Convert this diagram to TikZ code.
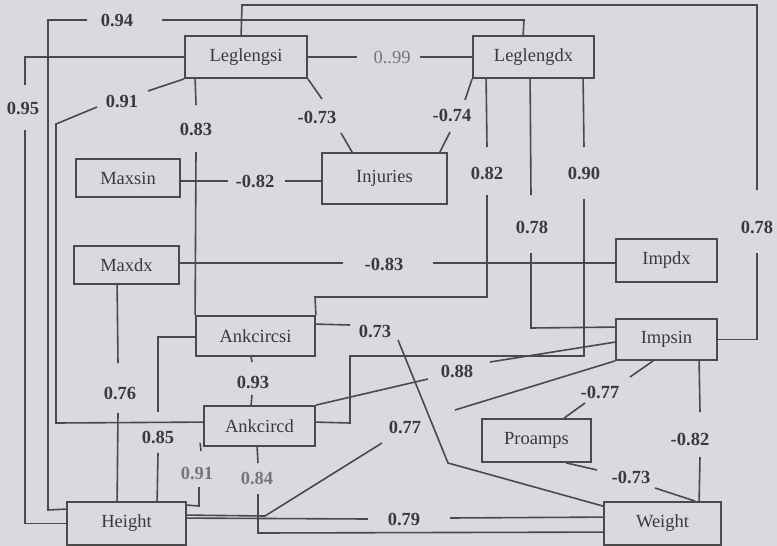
\documentclass[tikz,border=0pt]{standalone}
\usepackage{fontspec}
\setmainfont{Liberation Serif}
\newfontfamily\tnr{Liberation Serif}
\usetikzlibrary{calc}
\definecolor{bgc}{HTML}{DAD9DE}
\definecolor{linec}{HTML}{4A4A4C}
\definecolor{textc}{HTML}{3A3A3C}
\definecolor{greyt}{HTML}{76767A}
\begin{document}
\begin{tikzpicture}[x=1pt,y=-1pt,
 box/.style={draw=linec,line width=1.8pt,fill=bgc,inner sep=0pt,text=textc,font=\tnr\fontsize{18.5}{22}\selectfont},
 lbl/.style={text=textc,inner sep=0pt,font=\tnr\bfseries\fontsize{18.5}{22}\selectfont},
 conn/.style={draw=linec,line width=1.6pt}]
\useasboundingbox (0,0) rectangle (777,546);
\fill[bgc] (0,0) rectangle (777,546);
% boxes
\node[box,minimum width=122pt,minimum height=42pt] (Leglengsi) at (246,57) {Leglengsi};
\node[box,minimum width=121pt,minimum height=42pt] (Leglengdx) at (533.5,57) {Leglengdx};
\node[box,minimum width=104pt,minimum height=38pt] (Maxsin) at (128,178) {Maxsin};
\node[box,minimum width=125pt,minimum height=51pt] (Injuries) at (384.5,178.5) {Injuries};
\node[box,minimum width=105pt,minimum height=38pt] (Maxdx) at (126.5,265) {Maxdx};
\node[box,minimum width=101pt,minimum height=43pt] (Impdx) at (666.5,260.5) {Impdx};
\node[box,minimum width=119pt,minimum height=40pt] (Ankcircsi) at (255.5,336) {Ankcircsi};
\node[box,minimum width=101pt,minimum height=41pt] (Impsin) at (666.5,339.5) {Impsin};
\node[box,minimum width=111pt,minimum height=40pt] (Ankcircd) at (259.5,426) {Ankcircd};
\node[box,minimum width=109pt,minimum height=43pt] (Proamps) at (536.5,440.5) {Proamps};
\node[box,minimum width=119pt,minimum height=43pt] (Height) at (126.5,523.5) {Height};
\node[box,minimum width=117pt,minimum height=43pt] (Weight) at (662.5,523.5) {Weight};
% 0.94
\node[lbl] (l1) at (117,20) {0.94};
\draw[conn] ($(Leglengdx.north west)+(51,0)$) -- (524,20) -- (162,20);
\draw[conn] (87,20) -- (48,20) -- (48,510) -- ($(Height.north west)+(0,8)$);
% 0.95
\node[lbl] (l2) at (23,108) {0.95};
\draw[conn] (Leglengsi.west) -- (25,57) -- (25,85);
\draw[conn] (25,130) -- (25,523.5) -- (Height.west);
% 0.91 top
\node[lbl] (l3) at (122,101) {0.91};
\draw[conn] (Leglengsi.south west) -- (148,91);
\draw[conn] (97,107) -- (56,124) -- (56,423) -- ($(Ankcircd.north west)+(0,17)$);
% 0..99
\node[lbl,font=\tnr\fontsize{18.5}{22}\selectfont,text=greyt] (l4) at (392,57) {0..99};
\draw[conn] (Leglengsi.east) -- (357,57);
\draw[conn] (420,57) -- (Leglengdx.west);
% -0.73
\node[lbl] (l5) at (317,117) {-0.73};
\draw[conn] (Leglengsi.south east) -- (322,99);
\draw[conn] (341,133) -- ($(Injuries.north west)+(31,0)$);
% -0.74
\node[lbl] (l6) at (452,115) {-0.74};
\draw[conn] (Leglengdx.south west) -- (465,100);
\draw[conn] (450,132) -- ($(Injuries.north east)+(-8,0)$);
% 0.83
\node[lbl] (l7) at (196,129) {0.83};
\draw[conn] ($(Leglengsi.south west)+(11,0)$) -- (196,105);
\draw[conn] (196,152) -- (Ankcircsi.north west);
% -0.82
\node[lbl] (l8) at (255,181) {-0.82};
\draw[conn] ($(Maxsin.east)+(0,3)$) -- (228,181);
\draw[conn] (285,181) -- ($(Injuries.west)+(0,2.5)$);
% -0.83
\node[lbl] (l9) at (384,264) {-0.83};
\draw[conn] ($(Maxdx.east)+(0,-2)$) -- (343,263);
\draw[conn] (433,263) -- ($(Impdx.west)+(0,2.5)$);
% 0.82
\node[lbl] (l10) at (487,173) {0.82};
\draw[conn] ($(Leglengdx.south west)+(14,0)$) -- (487,147);
\draw[conn] (487,195) -- (487,297) -- (315,297) -- (Ankcircsi.north east);
% 0.78 middle
\node[lbl] (l11) at (532,227) {0.78};
\draw[conn] ($(Leglengdx.south west)+(58,0)$) -- (531,195);
\draw[conn] (531,253) -- (531,328) -- ($(Impsin.north west)+(0,9)$);
% 0.90
\node[lbl] (l12) at (584,173) {0.90};
\draw[conn] ($(Leglengdx.south west)+(111,0)$) -- (584,147);
\draw[conn] (584,199) -- (584,356) -- (350,356) -- (350,423) -- ($(Ankcircd.north east)+(0,17)$);
% 0.78 right
\node[lbl] (l13) at (757,227) {0.78};
\draw[conn] ($(Leglengsi.north west)+(57,0)$) -- (242,5) -- (757,5) -- (757,190);
\draw[conn] (757,253) -- (757,339.5) -- (Impsin.east);
% 0.73
\node[lbl] (l14) at (375,331) {0.73};
\draw[conn] ($(Ankcircsi.north east)+(0,9)$) -- (350,325);
\draw[conn] (398,340) -- (448,463) -- ($(Weight.north west)+(0,5)$);
% 0.93
\node[lbl] (l15) at (253,382) {0.93};
\draw[conn] ($(Ankcircsi.south west)+(56,0)$) -- (252,362);
\draw[conn] (252,395) -- ($(Ankcircd.north west)+(48,0)$);
% 0.88
\node[lbl] (l16) at (457,371) {0.88};
\draw[conn] (Ankcircd.north east) -- (428,379);
\draw[conn] (490,362) -- ($(Impsin.north west)+(0,24)$);
% 0.77
\node[lbl] (l17) at (405,427) {0.77};
\draw[conn] ($(Height.north east)+(0,14)$) -- (265,516) -- (382,443);
\draw[conn] (455,410) -- (Impsin.south west);
% -0.77
\node[lbl] (l18) at (600,392) {-0.77};
\draw[conn] ($(Proamps.north west)+(83,0)$) -- (585,403);
\draw[conn] (630,377) -- ($(Impsin.south west)+(38,0)$);
% -0.82 right
\node[lbl] (l19) at (690,439) {-0.82};
\draw[conn] ($(Impsin.south west)+(84,0)$) -- (700,412);
\draw[conn] (700,457) -- ($(Weight.north west)+(96,0)$);
% -0.73 right
\node[lbl] (l20) at (631,477) {-0.73};
\draw[conn] ($(Proamps.south west)+(85,0)$) -- (597,470);
\draw[conn] (655,488) -- ($(Weight.north west)+(92,0)$);
% 0.79
\node[lbl] (l21) at (404,519) {0.79};
\draw[conn] ($(Height.north east)+(0,17)$) -- (368,519);
\draw[conn] (450,518) -- ($(Weight.north west)+(0,16)$);
% 0.84
\node[lbl,text=greyt] (l22) at (257,478) {0.84};
\draw[conn] ($(Ankcircd.south west)+(54,0)$) -- (258,463);
\draw[conn] (258,494) -- (258,533) -- ($(Weight.north west)+(0,31)$);
% 0.76
\node[lbl] (l23) at (120,393) {0.76};
\draw[conn] ($(Maxdx.south west)+(44,0)$) -- (118,363);
\draw[conn] (118,413) -- ($(Height.north west)+(51,0)$);
% 0.85
\node[lbl] (l24) at (158,437) {0.85};
\draw[conn] ($(Ankcircsi.west)+(0,1)$) -- (158,337) -- (158,412);
\draw[conn] (158,453) -- ($(Height.north west)+(91,0)$);
% 0.91 bottom
\node[lbl,text=greyt] (l25) at (197,473) {0.91};
\draw[conn] ($(Ankcircd.south west)+(-3,-4)$) -- (201,451);
\draw[conn] (199,487) -- (199,506) -- ($(Height.north east)+(0,4)$);
\end{tikzpicture}
\end{document}
